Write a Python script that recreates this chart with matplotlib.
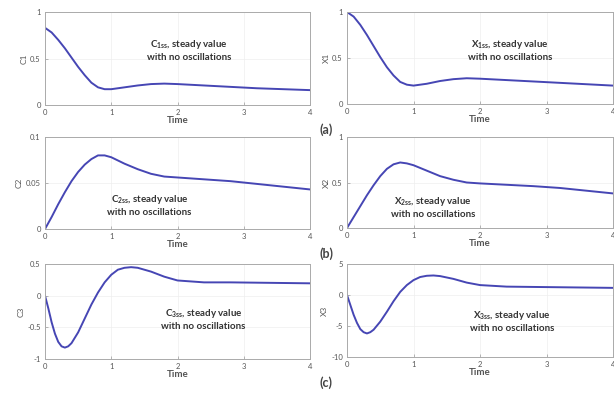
import matplotlib
matplotlib.use('Agg')
import matplotlib.pyplot as plt

# time samples
t = [0, 0.1, 0.2, 0.3, 0.4, 0.5, 0.6, 0.7, 0.8, 0.9, 1.0, 1.2, 1.4, 1.6, 1.8,
     2.0, 2.4, 2.8, 3.2, 3.6, 4.0]
c1 = [0.83, 0.78, 0.70, 0.61, 0.51, 0.41, 0.32, 0.24, 0.19, 0.17, 0.17, 0.19,
      0.21, 0.225, 0.23, 0.225, 0.21, 0.195, 0.18, 0.17, 0.16]
x1 = [1.0, 0.95, 0.86, 0.75, 0.63, 0.51, 0.40, 0.31, 0.24, 0.21, 0.20, 0.22,
      0.25, 0.27, 0.28, 0.275, 0.26, 0.245, 0.23, 0.215, 0.20]
c2 = [0, 0.013, 0.027, 0.040, 0.052, 0.062, 0.070, 0.076, 0.080, 0.080, 0.078,
      0.071, 0.065, 0.060, 0.057, 0.056, 0.054, 0.052, 0.049, 0.046, 0.043]
x2 = [0, 0.12, 0.24, 0.36, 0.47, 0.57, 0.65, 0.70, 0.72, 0.71, 0.69, 0.63,
      0.57, 0.53, 0.50, 0.49, 0.475, 0.46, 0.44, 0.41, 0.38]

t3 = [0, 0.05, 0.1, 0.15, 0.2, 0.25, 0.3, 0.35, 0.4, 0.5, 0.6, 0.7, 0.8, 0.9,
      1.0, 1.1, 1.2, 1.3, 1.4, 1.6, 1.8, 2.0, 2.4, 2.8, 3.2, 3.6, 4.0]
c3 = [0, -0.2, -0.42, -0.60, -0.73, -0.80, -0.82, -0.80, -0.75, -0.58, -0.36,
      -0.14, 0.05, 0.21, 0.33, 0.41, 0.44, 0.45, 0.44, 0.38, 0.30, 0.24, 0.21,
      0.21, 0.205, 0.20, 0.195]
x3 = [0, -1.6, -3.2, -4.5, -5.5, -6.0, -6.2, -6.0, -5.6, -4.3, -2.7, -1.0, 0.5,
      1.6, 2.4, 2.9, 3.1, 3.15, 3.05, 2.6, 2.0, 1.6, 1.35, 1.3, 1.25, 1.2, 1.15]

ylabels = ['C1', 'X1', 'C2', 'X2', 'C3', 'X3']
yticks = [[0, 0.5, 1], [0, 0.5, 1], [0, 0.05, 0.1], [0, 0.5, 1],
          [-1, -0.5, 0, 0.5], [-10, -5, 0, 5]]
yticklabels = [['0', '0.5', '1'], ['0', '0.5', '1'], ['0', '0.05', '0.1'],
               ['0', '0.5', '1'], ['-1', '-0.5', '0', '0.5'],
               ['-10', '-5', '0', '5']]
notes = [r'C$_\mathregular{1ss}$, steady value', r'X$_\mathregular{1ss}$, steady value',
         r'C$_\mathregular{2ss}$, steady value', r'X$_\mathregular{2ss}$, steady value',
         r'C$_\mathregular{3ss}$, steady value', r'X$_\mathregular{3ss}$, steady value']
note_pos = [(2.17, 0.59), (2.45, 0.59), (1.58, 0.026), (1.29, 0.234),
            (2.39, -0.37), (2.48, -4.2)]
panel_tags = ['(a)', '(b)', '(c)']

plt.rcParams['font.family'] = ['Lato', 'DejaVu Sans']
plt.rcParams['mathtext.fontset'] = 'custom'
plt.rcParams['mathtext.rm'] = 'Lato'

fig = plt.figure(figsize=(6.14, 3.96), dpi=100)
W, H = 614.0, 396.0
# axes boxes in pixels: left, top, right, bottom
boxes = [(45, 12, 310, 105), (347, 12, 613, 104),
         (45, 137, 310, 229), (347, 137, 613, 228),
         (45, 264, 310, 359), (347, 264, 613, 357)]
series = [(t, c1), (t, x1), (t, c2), (t, x2), (t3, c3), (t3, x3)]

grey = '#555555'
for i, (l, tp, r, b) in enumerate(boxes):
    ax = fig.add_axes([l / W, 1 - b / H, (r - l) / W, (b - tp) / H])
    xs, ys = series[i]
    ax.plot(xs, ys, color='#4646b4', lw=1.4)
    ax.set_xlim(0, 4)
    ax.set_ylim(yticks[i][0], yticks[i][-1])
    ax.set_xticks([0, 1, 2, 3, 4])
    ax.set_yticks(yticks[i])
    ax.set_yticklabels(yticklabels[i])
    ax.tick_params(direction='in', length=2, width=0.5, colors='#999999',
                   labelcolor=grey, labelsize=5.5, pad=3)
    ax.grid(True, color='#eeeeee', lw=0.5)
    for sp in ax.spines.values():
        sp.set_color('#aaaaaa')
        sp.set_linewidth(0.7)
    ax.set_xlabel('Time', fontsize=7, fontweight='bold', color=grey, labelpad=0)
    ax.set_ylabel(ylabels[i], fontsize=6, color=grey, labelpad=2)
    nx, ny = note_pos[i]
    ax.text(nx, ny, notes[i] + '\nwith no oscillations', ha='center',
            va='center', fontsize=7, fontweight='bold', color='#333333',
            linespacing=1.25)

for tag, y in zip(panel_tags, [130, 254, 383]):
    fig.text(326 / W, 1 - y / H, tag, ha='center', va='center', fontsize=9,
             fontweight='bold', color='#444444')

fig.savefig('out.png', dpi=100)
